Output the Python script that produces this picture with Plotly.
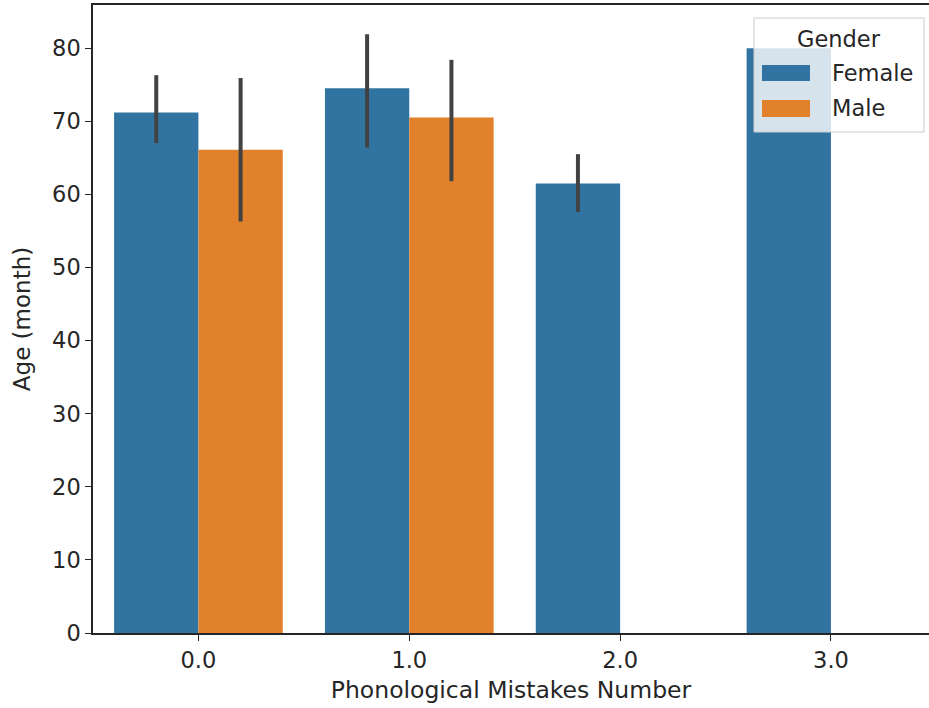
import plotly.graph_objects as go

# Mean age per number of phonological mistakes, split by gender, with 95% CI
categories = ["0.0", "1.0", "2.0", "3.0"]
female_x = [0, 1, 2, 3]
female_mean = [71.2, 74.5, 61.5, 80.0]
female_ci_low = [67.0, 66.4, 57.6, 80.0]
female_ci_high = [76.3, 81.9, 65.5, 80.0]

male_x = [0, 1]
male_mean = [66.1, 70.5]
male_ci_low = [56.3, 61.8]
male_ci_high = [75.9, 78.4]

y_ticks = [0, 10, 20, 30, 40, 50, 60, 70, 80]

BLUE = "#3274a1"
ORANGE = "#e1812c"
ERR = "#424242"
FONT = "DejaVu Sans"
TXT = "#262626"
FS = 22.5

W, H = 929, 708
L, R, T, B = 93, 0, 5, 75


def err(mean, lo, hi, has):
    plus = [h - m if k else 0 for m, h, k in zip(mean, hi, has)]
    minus = [m - l if k else 0 for m, l, k in zip(mean, lo, has)]
    return dict(type="data", array=plus, arrayminus=minus, color=ERR,
                thickness=4, width=0, visible=True)


female_has_ci = [True, True, True, False]
male_has_ci = [True, True]

fig = go.Figure()
fig.add_trace(go.Bar(
    x=[v - 0.2 for v in female_x], y=female_mean, width=0.4, name="Female",
    marker=dict(color=BLUE, line=dict(width=0)),
    error_y=err(female_mean, female_ci_low, female_ci_high, female_has_ci),
    showlegend=False,
))
fig.add_trace(go.Bar(
    x=[v + 0.2 for v in male_x], y=male_mean, width=0.4, name="Male",
    marker=dict(color=ORANGE, line=dict(width=0)),
    error_y=err(male_mean, male_ci_low, male_ci_high, male_has_ci),
    showlegend=False,
))

pw = W - L - R
ph = H - T - B


def px(xp):
    return (xp - L) / pw


def py(yp):
    return (H - B - yp) / ph


# Legend box drawn as shapes so the swatches keep matplotlib proportions
shapes = [
    dict(type="rect", xref="paper", yref="paper", x0=px(754), x1=px(924),
         y0=py(132), y1=py(18), fillcolor="rgba(255,255,255,0.8)",
         line=dict(color="#cccccc", width=1), layer="above"),
    dict(type="rect", xref="paper", yref="paper", x0=px(762), x1=px(810),
         y0=py(81), y1=py(65), fillcolor=BLUE, line=dict(width=0), layer="above"),
    dict(type="rect", xref="paper", yref="paper", x0=px(762), x1=px(810),
         y0=py(117), y1=py(100), fillcolor=ORANGE, line=dict(width=0), layer="above"),
]
annotations = [
    dict(text="Gender", xref="paper", yref="paper", x=px(839), y=py(39),
         xanchor="center", yanchor="middle", showarrow=False,
         font=dict(family=FONT, size=FS, color=TXT)),
    dict(text="Female", xref="paper", yref="paper", x=px(830), y=py(73),
         xanchor="left", yanchor="middle", showarrow=False,
         font=dict(family=FONT, size=FS, color=TXT)),
    dict(text="Male", xref="paper", yref="paper", x=px(830), y=py(108),
         xanchor="left", yanchor="middle", showarrow=False,
         font=dict(family=FONT, size=FS, color=TXT)),
]

fig.update_layout(
    width=W, height=H,
    margin=dict(l=L, r=R, t=T, b=B, pad=0),
    paper_bgcolor="white", plot_bgcolor="white",
    barmode="overlay",
    font=dict(family=FONT, size=FS, color=TXT),
    shapes=shapes, annotations=annotations,
    xaxis=dict(
        range=[-0.5, 3.465], tickvals=female_x, ticktext=categories,
        showline=True, linecolor=TXT, linewidth=1.5, mirror=True,
        ticks="outside", ticklen=6, tickwidth=1.3, tickcolor=TXT,
        showgrid=False, zeroline=False, automargin=False,
        title=dict(text="Phonological Mistakes Number", standoff=10,
                   font=dict(size=23.5)),
        tickfont=dict(size=FS),
    ),
    yaxis=dict(
        range=[0, 85.9], tickvals=y_ticks,
        showline=True, linecolor=TXT, linewidth=1.5,
        ticks="outside", ticklen=6, tickwidth=1.3, tickcolor=TXT,
        showgrid=False, zeroline=False, automargin=False,
        title=dict(text="Age (month)", standoff=15, font=dict(size=23)),
        tickfont=dict(size=FS),
    ),
)

fig.write_html("out.html")
